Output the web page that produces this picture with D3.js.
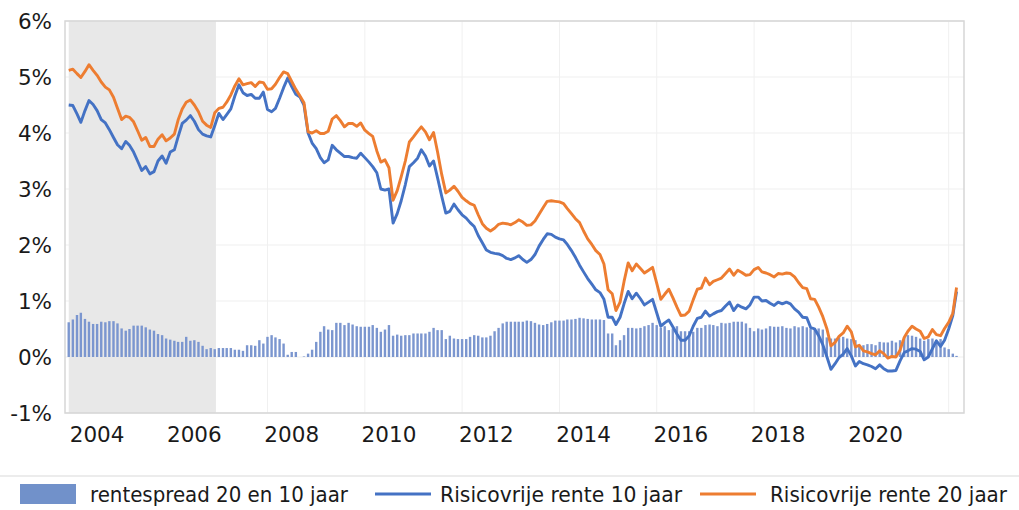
<!DOCTYPE html>
<html>
<head>
<meta charset="utf-8">
<script src="https://cdn.jsdelivr.net/npm/d3@7.9.0/dist/d3.min.js"></script>
<style>
  body { margin: 0; background: #fff; }
  svg { display: block; }
  .tick-label { font-family: "DejaVu Sans", Verdana, sans-serif; font-size: 21.5px; fill: #1a1a1a; }
  .legend-label { font-family: "Liberation Sans Narrow", "DejaVu Sans Condensed", sans-serif; font-size: 22px; fill: #1a1a1a; }
</style>
</head>
<body>
<svg id="chart" width="1019" height="510"></svg>
<script>
// monthly data, Dec 2003 .. Mar 2022 (percent)
const firstMonth = new Date(2003, 11, 1);
const lastMonth = new Date(2022, 2, 1);

const rate20 = [
  5.12, 5.14, 5.06, 4.99, 5.10, 5.22, 5.12, 5.03, 4.91, 4.82,
  4.77, 4.64, 4.44, 4.24, 4.30, 4.28, 4.20, 4.04, 3.87, 3.92,
  3.76, 3.76, 3.89, 3.97, 3.86, 3.91, 3.98, 4.23, 4.43, 4.55,
  4.59, 4.50, 4.38, 4.21, 4.14, 4.10, 4.36, 4.44, 4.46, 4.55,
  4.68, 4.84, 4.97, 4.86, 4.88, 4.90, 4.83, 4.91, 4.90, 4.78,
  4.79, 4.87, 4.99, 5.09, 5.06, 4.92, 4.78, 4.66, 4.54, 4.02,
  4.00, 4.04, 3.99, 3.99, 4.03, 4.25, 4.31, 4.22, 4.11, 4.17,
  4.17, 4.12, 4.18, 4.05, 3.99, 3.94, 3.68, 3.48, 3.52, 3.38,
  2.80, 2.97, 3.22, 3.50, 3.84, 3.93, 4.03, 4.11, 4.02, 3.88,
  4.01, 3.66, 3.26, 2.93, 2.98, 3.05, 2.96, 2.85, 2.79, 2.74,
  2.71, 2.54, 2.38, 2.30, 2.25, 2.30, 2.37, 2.39, 2.38, 2.36,
  2.40, 2.45, 2.41, 2.35, 2.36, 2.43, 2.55, 2.67, 2.78, 2.79,
  2.78, 2.77, 2.74, 2.65, 2.56, 2.47, 2.40, 2.25, 2.11, 2.01,
  1.90, 1.83, 1.66, 1.20, 1.13, 0.83, 0.98, 1.35, 1.68, 1.54,
  1.66, 1.58, 1.50, 1.55, 1.60, 1.32, 1.03, 1.12, 1.21, 1.06,
  0.89, 0.74, 0.75, 0.82, 1.02, 1.21, 1.23, 1.41, 1.29, 1.35,
  1.38, 1.41, 1.49, 1.57, 1.46, 1.55, 1.51, 1.46, 1.47, 1.56,
  1.60, 1.52, 1.50, 1.47, 1.43, 1.49, 1.48, 1.50, 1.49, 1.43,
  1.33, 1.24, 1.22, 1.04, 1.03, 0.89, 0.72, 0.51, 0.20, 0.26,
  0.37, 0.43, 0.55, 0.45, 0.18, 0.21, 0.11, 0.09, 0.06, 0.04,
  0.11, 0.06, -0.02, 0.01, 0.00, 0.12, 0.35, 0.46, 0.55, 0.50,
  0.46, 0.33, 0.36, 0.49, 0.40, 0.38, 0.51, 0.62, 0.78, 1.24
];

const rate10 = [
  4.50, 4.49, 4.34, 4.19, 4.40, 4.58, 4.51, 4.40, 4.24, 4.18,
  4.06, 3.92, 3.79, 3.72, 3.85, 3.78, 3.66, 3.50, 3.33, 3.40,
  3.27, 3.31, 3.50, 3.59, 3.46, 3.66, 3.70, 3.93, 4.17, 4.23,
  4.31, 4.21, 4.06, 3.98, 3.95, 3.93, 4.13, 4.35, 4.24, 4.33,
  4.43, 4.66, 4.86, 4.72, 4.67, 4.69, 4.62, 4.62, 4.73, 4.42,
  4.38, 4.44, 4.62, 4.81, 4.98, 4.83, 4.69, 4.64, 4.50, 4.00,
  3.82, 3.72, 3.56, 3.47, 3.52, 3.78, 3.70, 3.64, 3.58, 3.58,
  3.56, 3.55, 3.64, 3.56, 3.48, 3.40, 3.29, 3.00, 2.98, 3.00,
  2.39, 2.56, 2.79, 3.08, 3.40, 3.47, 3.55, 3.70, 3.59, 3.41,
  3.50, 3.20, 2.87, 2.57, 2.60, 2.73, 2.63, 2.54, 2.48, 2.40,
  2.33, 2.17, 2.04, 1.91, 1.87, 1.85, 1.84, 1.81, 1.76, 1.74,
  1.77, 1.81, 1.74, 1.69, 1.74, 1.83, 1.98, 2.10, 2.20, 2.19,
  2.14, 2.11, 2.09, 2.01, 1.90, 1.78, 1.64, 1.52, 1.40, 1.30,
  1.20, 1.15, 1.03, 0.71, 0.71, 0.58, 0.71, 0.95, 1.17, 1.04,
  1.14, 1.04, 0.93, 0.98, 1.03, 0.79, 0.55, 0.61, 0.66, 0.54,
  0.41, 0.30, 0.30, 0.38, 0.55, 0.69, 0.71, 0.82, 0.73, 0.77,
  0.81, 0.83, 0.91, 0.98, 0.83, 0.93, 0.89, 0.86, 0.93, 1.07,
  1.07, 1.00, 1.01, 0.96, 0.92, 0.98, 0.95, 0.98, 0.95, 0.86,
  0.80, 0.71, 0.70, 0.53, 0.50, 0.38, 0.22, 0.01, -0.22, -0.12,
  -0.01, 0.05, 0.15, 0.02, -0.16, -0.08, -0.12, -0.14, -0.17, -0.21,
  -0.14, -0.21, -0.25, -0.25, -0.24, -0.07, 0.08, 0.11, 0.15, 0.14,
  0.10, -0.05, 0.00, 0.15, 0.29, 0.19, 0.30, 0.50, 0.74, 1.17
];

const spread = [
  0.62, 0.67, 0.75, 0.79, 0.68, 0.63, 0.59, 0.59, 0.63, 0.62,
  0.64, 0.64, 0.60, 0.51, 0.47, 0.50, 0.56, 0.56, 0.56, 0.53,
  0.49, 0.47, 0.41, 0.39, 0.33, 0.31, 0.29, 0.27, 0.27, 0.36,
  0.29, 0.30, 0.27, 0.20, 0.14, 0.16, 0.14, 0.16, 0.16, 0.16,
  0.16, 0.13, 0.13, 0.11, 0.21, 0.21, 0.20, 0.30, 0.24, 0.36,
  0.39, 0.35, 0.32, 0.24, 0.04, 0.09, 0.09, 0.00, 0.01, 0.06,
  0.13, 0.27, 0.45, 0.55, 0.49, 0.48, 0.61, 0.61, 0.57, 0.61,
  0.58, 0.55, 0.54, 0.54, 0.54, 0.57, 0.52, 0.45, 0.49, 0.57,
  0.38, 0.40, 0.38, 0.39, 0.39, 0.42, 0.42, 0.42, 0.42, 0.45,
  0.52, 0.48, 0.48, 0.32, 0.38, 0.33, 0.32, 0.32, 0.32, 0.36,
  0.39, 0.38, 0.35, 0.35, 0.38, 0.46, 0.52, 0.60, 0.63, 0.63,
  0.63, 0.63, 0.63, 0.65, 0.64, 0.61, 0.58, 0.57, 0.59, 0.62,
  0.65, 0.65, 0.65, 0.67, 0.67, 0.68, 0.70, 0.69, 0.68, 0.67,
  0.67, 0.67, 0.66, 0.42, 0.42, 0.21, 0.30, 0.39, 0.52, 0.52,
  0.51, 0.52, 0.55, 0.57, 0.61, 0.57, 0.52, 0.55, 0.48, 0.51,
  0.55, 0.46, 0.46, 0.46, 0.45, 0.52, 0.52, 0.57, 0.58, 0.57,
  0.55, 0.61, 0.60, 0.61, 0.63, 0.63, 0.63, 0.60, 0.52, 0.46,
  0.51, 0.49, 0.51, 0.55, 0.54, 0.54, 0.55, 0.52, 0.51, 0.55,
  0.53, 0.55, 0.53, 0.51, 0.52, 0.51, 0.49, 0.35, 0.33, 0.33,
  0.35, 0.36, 0.33, 0.32, 0.30, 0.20, 0.21, 0.23, 0.23, 0.21,
  0.27, 0.26, 0.26, 0.29, 0.26, 0.30, 0.35, 0.39, 0.38, 0.36,
  0.33, 0.29, 0.32, 0.33, 0.26, 0.32, 0.17, 0.14, 0.06, 0.02
];

const yTicks = [-1, 0, 1, 2, 3, 4, 5, 6];
const yearLabels = [2004, 2006, 2008, 2010, 2012, 2014, 2016, 2018, 2020];
const gridYears = [2004, 2006, 2008, 2010, 2012, 2014, 2016, 2018, 2020, 2022];
const shadeStart = new Date(2003, 11, 1);
const shadeEnd = new Date(2006, 11, 10);

const legendItems = [
  { label: 'rentespread 20 en 10 jaar', kind: 'bar', color: '#7191ca' },
  { label: 'Risicovrije rente 10 jaar', kind: 'line', color: '#4472c4' },
  { label: 'Risicovrije rente 20 jaar', kind: 'line', color: '#ed7d31' }
];

const months = d3.timeMonth.range(firstMonth, d3.timeMonth.offset(lastMonth, 1));

const plot = { left: 65, right: 964, top: 21, bottom: 413 };

const x = d3.scaleTime()
  .domain([new Date(2003, 10, 3), new Date(2022, 3, 26)])
  .range([plot.left, plot.right]);

const y = d3.scaleLinear()
  .domain([-1, 6])
  .range([plot.bottom, plot.top]);

const svg = d3.select('#chart');

svg.append('rect')
  .attr('width', 1019).attr('height', 510).attr('fill', '#fff');

// gridlines
let grid = svg.append('g');
grid.selectAll('.hgrid')
  .data(yTicks)
  .join('line')
  .attr('x1', plot.left).attr('x2', plot.right)
  .attr('y1', (d) => y(d)).attr('y2', (d) => y(d))
  .attr('stroke', '#efefef').attr('stroke-width', 1);
grid.selectAll('.vgrid')
  .data(gridYears)
  .join('line')
  .attr('x1', (d) => x(new Date(d, 0, 1))).attr('x2', (d) => x(new Date(d, 0, 1)))
  .attr('y1', plot.top).attr('y2', plot.bottom)
  .attr('stroke', '#f0f0f0').attr('stroke-width', 1);

// shaded period
svg.append('rect')
  .attr('x', x(shadeStart))
  .attr('y', plot.top)
  .attr('width', x(shadeEnd) - x(shadeStart))
  .attr('height', plot.bottom - plot.top)
  .attr('fill', '#e8e8e8');

// spread bars
const barWidth = 2.4;
svg.append('g')
  .selectAll('rect')
  .data(spread)
  .join('rect')
  .attr('x', (d, i) => x(months[i]) - barWidth / 2)
  .attr('y', (d) => y(Math.max(0, d)))
  .attr('width', barWidth)
  .attr('height', (d) => Math.abs(y(d) - y(0)))
  .attr('fill', '#7b96cf');

// lines
const line = d3.line()
  .x((d, i) => x(months[i]))
  .y((d) => y(d));

svg.append('path')
  .datum(rate10)
  .attr('d', line)
  .attr('fill', 'none')
  .attr('stroke', '#4472c4')
  .attr('stroke-width', 2.9)
  .attr('stroke-linejoin', 'round');

svg.append('path')
  .datum(rate20)
  .attr('d', line)
  .attr('fill', 'none')
  .attr('stroke', '#ed7d31')
  .attr('stroke-width', 2.9)
  .attr('stroke-linejoin', 'round');

// plot frame
svg.append('rect')
  .attr('x', plot.left).attr('y', plot.top)
  .attr('width', plot.right - plot.left).attr('height', plot.bottom - plot.top)
  .attr('fill', 'none').attr('stroke', '#d6d6d6').attr('stroke-width', 1.5);

// axis labels
svg.append('g')
  .selectAll('text')
  .data(yTicks)
  .join('text')
  .attr('class', 'tick-label')
  .attr('x', 52)
  .attr('y', (d) => y(d))
  .attr('dy', '0.36em')
  .attr('text-anchor', 'end')
  .text((d) => `${d}%`);

svg.append('g')
  .selectAll('text')
  .data(yearLabels)
  .join('text')
  .attr('class', 'tick-label')
  .attr('x', (d) => x(new Date(d, 6, 1)))
  .attr('y', 442)
  .attr('text-anchor', 'middle')
  .text((d) => d);

// legend
svg.append('line')
  .attr('x1', 0).attr('x2', 1019)
  .attr('y1', 476).attr('y2', 476)
  .attr('stroke', '#e6e6e6').attr('stroke-width', 1.5);

const legendPos = [
  { sx: 20, tx: 90, tw: 258 },
  { sx: 375, tx: 440, tw: 242 },
  { sx: 700, tx: 770, tw: 237 }
];
const legendY = 494;

legendItems.forEach((item, idx) => {
  const p = legendPos[idx];
  if (item.kind === 'bar') {
    svg.append('rect')
      .attr('x', p.sx).attr('y', legendY - 10)
      .attr('width', 56).attr('height', 20)
      .attr('fill', item.color);
  } else {
    svg.append('line')
      .attr('x1', p.sx).attr('x2', p.sx + 56)
      .attr('y1', legendY).attr('y2', legendY)
      .attr('stroke', item.color).attr('stroke-width', 2.8);
  }
  svg.append('text')
    .attr('class', 'legend-label')
    .attr('x', p.tx)
    .attr('y', legendY)
    .attr('dy', '0.35em')
    .attr('textLength', p.tw)
    .attr('lengthAdjust', 'spacingAndGlyphs')
    .text(item.label);
});
</script>
</body>
</html>
